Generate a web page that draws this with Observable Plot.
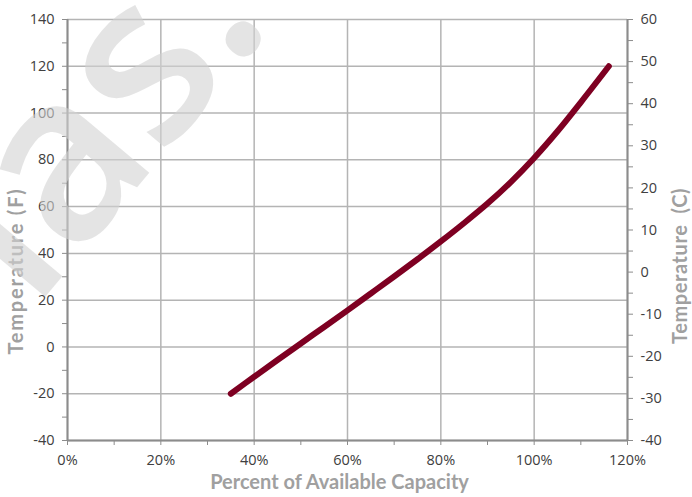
<!DOCTYPE html>
<html>
<head>
<meta charset="utf-8">
<script src="https://cdn.jsdelivr.net/npm/d3@7"></script>
<script src="https://cdn.jsdelivr.net/npm/@observablehq/plot@0.6"></script>
<style>
  html, body { margin: 0; padding: 0; background: #fff; }
  #chart { width: 692px; height: 497px; overflow: hidden; }
</style>
</head>
<body>
<div id="chart"></div>
<script>
// Curve: percent of available capacity (fraction) vs temperature (F)
const capacity = [0.35, 0.40, 0.45, 0.50, 0.55, 0.60, 0.65, 0.70, 0.75, 0.80, 0.85, 0.90, 0.95, 1.00, 1.05, 1.10, 1.16];
const tempF    = [-20, -12.75, -5.6, 1.5, 8.55, 15.65, 22.85, 30.1, 37.5, 45.1, 53, 61.3, 70.5, 80.8, 92.2, 104.6, 120];

const xTicks = [0, 0.2, 0.4, 0.6, 0.8, 1.0, 1.2];
const xMinorTicks = [0.1, 0.3, 0.5, 0.7, 0.9, 1.1];
const yTicksF = [-40, -20, 0, 20, 40, 60, 80, 100, 120, 140];
const yMinorF = [-30, -10, 10, 30, 50, 70, 90, 110, 130];
const yTicksC = [-40, -30, -20, -10, 0, 10, 20, 30, 40, 50, 60];
const yMinorC = [-35, -25, -15, -5, 5, 15, 25, 35, 45, 55];

const xTitle = "Percent of Available Capacity";
const yTitleLeft = "Temperature (F)";
const yTitleRight = "Temperature  (C)";
const watermark = "las.";

const data = capacity.map((c, i) => ({capacity: c, tempF: tempF[i]}));
const cToF = c => c * 1.8 + 32;

const axisColor = "#8c8c8c";
const gridColor = "#b4b4b4";
const labelColor = "#404040";
const titleColor = "#a0a0a0";
const lineColor = "#7e0022";

const chart = Plot.plot({
  width: 692,
  height: 497,
  marginLeft: 67,
  marginRight: 65,
  marginTop: 19,
  marginBottom: 57,
  style: {fontFamily: "'Open Sans', sans-serif", fontSize: "14px", background: "#fff", overflow: "visible"},
  x: {domain: [0, 1.2]},
  y: {domain: [-40, 140]},
  marks: [
    Plot.gridY(yTicksF, {stroke: gridColor, strokeOpacity: 1, strokeWidth: 1.5}),
    Plot.gridX(xTicks, {stroke: gridColor, strokeOpacity: 1, strokeWidth: 1.5}),
    Plot.ruleX([0, 1.2], {stroke: axisColor, strokeWidth: 2}),
    Plot.ruleY([-40], {stroke: axisColor, strokeWidth: 2}),
    Plot.axisX(xTicks, {tickSize: 5, tickPadding: 9, stroke: axisColor, fill: labelColor, tickFormat: d => Math.round(d * 100) + "%", label: null, fontSize: 14.5}),
    Plot.axisX(xMinorTicks, {tickSize: 5, stroke: axisColor, text: null, label: null}),
    Plot.axisY(yTicksF, {tickSize: 5, tickPadding: 8, stroke: axisColor, fill: labelColor, label: null, fontSize: 14.5, tickFormat: d => String(d)}),
    Plot.axisY(yMinorF, {tickSize: 5, stroke: axisColor, text: null, label: null}),
    Plot.axisY(yTicksC.map(cToF), {anchor: "right", tickSize: 5, tickPadding: 8, stroke: axisColor, fill: labelColor, label: null, fontSize: 14.5,
      tickFormat: f => String(Math.round((f - 32) / 1.8))}),
    Plot.axisY(yMinorC.map(cToF), {anchor: "right", tickSize: 5, stroke: axisColor, text: null, label: null}),
    Plot.line(data, {x: "capacity", y: "tempF", stroke: lineColor, strokeWidth: 6, curve: "catmull-rom", strokeLinecap: "round", strokeLinejoin: "round"}),
    Plot.text([xTitle], {frameAnchor: "bottom", textAnchor: "middle", dx: -8, dy: 48, fill: titleColor, fontWeight: "bold", fontSize: 20, fontFamily: "Lato, sans-serif"}),
    Plot.text([yTitleLeft], {frameAnchor: "left", textAnchor: "middle", dx: -51, dy: 41, rotate: -90, fill: titleColor, fontWeight: "bold", fontSize: 20, fontFamily: "Lato, sans-serif", className: "ytitle-left"}),
    Plot.text([yTitleRight], {frameAnchor: "right", textAnchor: "middle", dx: 53, dy: 36, rotate: -90, fill: titleColor, fontWeight: "bold", fontSize: 20, fontFamily: "Lato, sans-serif", className: "ytitle-right"}),
    Plot.text([watermark], {frameAnchor: "top-left", textAnchor: "middle", dx: -40, dy: 42, rotate: -50, fill: "#d2d2d2", fillOpacity: 0.6, fontWeight: 600, fontSize: 232, fontFamily: "'Open Sans', sans-serif"})
  ]
});
d3.select(chart).selectAll(".ytitle-left text").style("letter-spacing", "1.8px");
d3.select(chart).selectAll(".ytitle-right text").style("letter-spacing", "0.6px");
document.getElementById("chart").appendChild(chart);
</script>
</body>
</html>
